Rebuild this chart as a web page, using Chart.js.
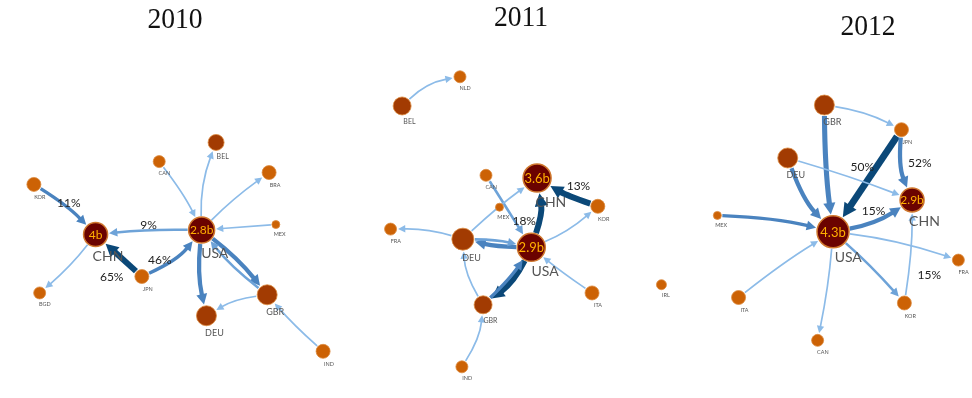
<!DOCTYPE html>
<html>
<head>
<meta charset="utf-8">
<script src="https://cdn.jsdelivr.net/npm/chart.js@4.4.0/dist/chart.umd.min.js"></script>
<style>
  body { margin: 0; background: #fff; }
  #wrap { width: 972px; height: 398px; }
</style>
</head>
<body>
<div id="wrap"><canvas id="net" width="972" height="398"></canvas></div>
<script>
// years shown, one network each
var years = ['2010', '2011', '2012'];

// 2010 nodes (layout coords) and trade links
var names2010 = ['CHN', 'USA', 'KOR', 'BGD', 'JPN', 'CAN', 'BEL', 'BRA', 'MEX', 'GBR', 'DEU', 'IND'];
var x2010 = [81, 191, 17, 23, 129, 147, 206, 261, 268, 259, 196, 317];
var y2010 = [238, 233, 183, 302, 284, 158, 137, 170, 227, 304, 327, 366];
var size2010 = [12, 13, 7, 6, 7, 6, 8, 7, 4, 10, 10, 7];
var volume2010 = ['4b', '2.8b', '', '', '', '', '', '', '', '', '', ''];
var from2010 = ['KOR', 'CHN', 'USA', 'JPN', 'JPN', 'CAN', 'USA', 'USA', 'MEX', 'USA', 'USA', 'GBR', 'GBR', 'IND'];
var to2010 = ['CHN', 'BGD', 'CHN', 'CHN', 'USA', 'USA', 'BEL', 'BRA', 'USA', 'DEU', 'GBR', 'USA', 'DEU', 'GBR'];
var weight2010 = [4, 2, 3, 7, 4, 2, 2, 2, 2, 5, 5, 3, 2, 2];
var share2010 = ['11%', '', '9%', '65%', '46%', '', '', '', '', '', '', '', '', ''];

// 2011
var names2011 = ['CHN', 'USA', 'NLD', 'BEL', 'CAN', 'MEX', 'FRA', 'DEU', 'KOR', 'ITA', 'GBR', 'IND', 'IRL'];
var x2011 = [539, 533, 459, 399, 486, 500, 387, 462, 602, 596, 483, 461, 668];
var y2011 = [176, 252, 65, 97, 173, 208, 232, 243, 207, 302, 315, 383, 293];
var size2011 = [14, 14, 6, 9, 6, 4, 6, 11, 7, 7, 9, 6, 5];
var volume2011 = ['3.6b', '2.9b', '', '', '', '', '', '', '', '', '', '', ''];
var from2011 = ['BEL', 'CAN', 'DEU', 'USA', 'KOR', 'USA', 'DEU', 'USA', 'DEU', 'USA', 'GBR', 'GBR', 'IND', 'ITA'];
var to2011 = ['NLD', 'USA', 'CHN', 'CHN', 'CHN', 'KOR', 'FRA', 'DEU', 'USA', 'GBR', 'USA', 'DEU', 'GBR', 'USA'];
var weight2011 = [2, 3, 2, 7, 7, 2, 2, 5, 3, 7, 4, 2, 2, 2];
var share2011 = ['', '', '', '18%', '13%', '', '', '', '', '', '', '', '', ''];

// 2012
var names2012 = ['USA', 'CHN', 'GBR', 'JPN', 'DEU', 'MEX', 'ITA', 'CAN', 'KOR', 'FRA'];
var x2012 = [846, 928, 837, 917, 799, 726, 748, 830, 920, 976];
var y2012 = [235, 200, 96, 123, 154, 217, 307, 354, 313, 266];
var size2012 = [16, 12, 10, 7, 10, 4, 7, 6, 7, 6];
var volume2012 = ['4.3b', '2.9b', '', '', '', '', '', '', '', ''];
var from2012 = ['GBR', 'GBR', 'JPN', 'JPN', 'DEU', 'DEU', 'USA', 'MEX', 'ITA', 'USA', 'USA', 'USA', 'KOR'];
var to2012 = ['USA', 'JPN', 'USA', 'CHN', 'CHN', 'USA', 'CHN', 'USA', 'USA', 'CAN', 'KOR', 'FRA', 'CHN'];
var weight2012 = [6, 2, 8, 5, 2, 5, 5, 4, 2, 2, 3, 2, 2];
var share2012 = ['', '', '50%', '52%', '', '', '15%', '', '', '', '', '', '15%'];

// drawing layout (not data): curve bends and where the % labels sit
var bends = [
  [0.06, 0.05, -0.03, 0, -0.12, 0.05, 0.1, 0.04, 0, -0.08, 0.06, 0.06, -0.1, 0.03],
  [0.15, 0, 0.03, -0.12, 0.05, -0.08, -0.08, 0.05, 0.05, 0.12, -0.05, 0.12, -0.12, 0.02],
  [-0.03, 0.08, 0, -0.12, 0.02, -0.1, -0.1, 0.05, 0.03, 0.03, 0.03, 0.05, -0.04]
];
var labelShift = [
  {0: [4, -6], 2: [0, -7], 3: [-7, 22], 4: [-12, 7]},
  {3: [-10, 8], 4: [11, -6]},
  {2: [-5, -14], 3: [13, -2], 6: [1, -5], 12: [21, 24]}
];
var titlePos = [[175, 28], [521, 26], [868, 35]];

var panels = [
  {names: names2010, x: x2010, y: y2010, size: size2010, vol: volume2010, from: from2010, to: to2010, w: weight2010, lab: share2010},
  {names: names2011, x: x2011, y: y2011, size: size2011, vol: volume2011, from: from2011, to: to2011, w: weight2011, lab: share2011},
  {names: names2012, x: x2012, y: y2012, size: size2012, vol: volume2012, from: from2012, to: to2012, w: weight2012, lab: share2012}
];

function nodeFill(p, i) {
  if (p.vol[i]) return '#6b0300';
  return p.size[i] >= 8 ? '#a23b02' : '#cc6205';
}
function nodeBorder(p, i) {
  return p.vol[i] ? '#d0782e' : '#dc8a3f';
}
function edgeColor(w) {
  if (w >= 7) return '#0b4878';
  if (w >= 4) return '#4a83bf';
  if (w >= 3) return '#6ea3d8';
  return '#8cbbe8';
}
function nameFont(s) {
  return s >= 12 ? 14 : s >= 10 ? 9 : s >= 8 ? 7 : 5.5;
}

var datasets = panels.map(function(p, k) {
  return {
    label: years[k],
    data: p.names.map(function(n, i) { return {x: p.x[i], y: p.y[i], r: p.size[i]}; }),
    backgroundColor: p.names.map(function(n, i) { return nodeFill(p, i); }),
    borderColor: p.names.map(function(n, i) { return nodeBorder(p, i); }),
    borderWidth: p.names.map(function(n, i) { return p.vol[i] ? 1.5 : 0.8; }),
    clip: false
  };
});

// edges under the nodes
var edgePlugin = {
  id: 'edges',
  beforeDatasetsDraw: function(chart) {
    var ctx = chart.ctx;
    panels.forEach(function(p, k) {
      var pts = chart.getDatasetMeta(k).data;
      p.from.forEach(function(f, e) {
        var a = p.names.indexOf(f), b = p.names.indexOf(p.to[e]);
        var S = pts[a], T = pts[b];
        var dx = T.x - S.x, dy = T.y - S.y, len = Math.sqrt(dx * dx + dy * dy);
        var bend = bends[k][e] || 0;
        var cx = (S.x + T.x) / 2 + dy / len * bend * len;
        var cy = (S.y + T.y) / 2 - dx / len * bend * len;
        var lw = p.w[e] * 0.85;
        var rs = p.size[a] + 1, rt = p.size[b] + 1.5;
        var d0x = cx - S.x, d0y = cy - S.y, l0 = Math.hypot(d0x, d0y);
        var d1x = T.x - cx, d1y = T.y - cy, l1 = Math.hypot(d1x, d1y);
        d0x /= l0; d0y /= l0; d1x /= l1; d1y /= l1;
        var sx = S.x + d0x * rs, sy = S.y + d0y * rs;
        var tx = T.x - d1x * rt, ty = T.y - d1y * rt;
        var ah = 5 + lw * 1.3, aw = 2.5 + lw * 0.7;
        var bx = tx - d1x * ah, by = ty - d1y * ah;
        var col = edgeColor(p.w[e]);
        ctx.save();
        ctx.strokeStyle = col;
        ctx.fillStyle = col;
        ctx.lineWidth = lw;
        ctx.lineCap = 'butt';
        ctx.beginPath();
        ctx.moveTo(sx, sy);
        ctx.quadraticCurveTo(cx, cy, bx + d1x * 1, by + d1y * 1);
        ctx.stroke();
        ctx.beginPath();
        ctx.moveTo(tx, ty);
        ctx.lineTo(bx - d1y * aw, by + d1x * aw);
        ctx.lineTo(bx + d1y * aw, by - d1x * aw);
        ctx.closePath();
        ctx.fill();
        ctx.restore();
      });
    });
  },
  afterDatasetsDraw: function(chart) {
    var ctx = chart.ctx;
    ctx.save();
    ctx.textAlign = 'center';
    ctx.textBaseline = 'middle';
    panels.forEach(function(p, k) {
      var pts = chart.getDatasetMeta(k).data;
      // node names and hub volumes
      p.names.forEach(function(n, i) {
        var pt = pts[i], r = p.size[i], fs = nameFont(r);
        ctx.fillStyle = '#555';
        ctx.font = fs + 'px Lato';
        ctx.fillText(n, pt.x + r * 0.7 + (p.vol[i] ? 4 : 1), pt.y + r + fs * 0.5 + 3);
        if (p.vol[i]) {
          ctx.fillStyle = '#ffb000';
          ctx.font = (r >= 14 ? 13 : 12) + 'px Lato';
          ctx.fillText(p.vol[i], pt.x, pt.y + 0.5);
        }
      });
      // share labels on links
      p.lab.forEach(function(t, e) {
        if (!t) return;
        var S = pts[p.names.indexOf(p.from[e])], T = pts[p.names.indexOf(p.to[e])];
        var sh = labelShift[k][e] || [0, 0];
        ctx.fillStyle = '#222';
        ctx.font = '12px Lato';
        ctx.fillText(t, (S.x + T.x) / 2 + sh[0], (S.y + T.y) / 2 + sh[1]);
      });
    });
    // year titles
    ctx.fillStyle = '#111';
    ctx.textBaseline = 'alphabetic';
    ctx.font = '30px "Liberation Serif"';
    years.forEach(function(yr, k) {
      ctx.save();
      ctx.translate(titlePos[k][0], titlePos[k][1]);
      ctx.scale(0.92, 1);
      ctx.fillText(yr, 0, 0);
      ctx.restore();
    });
    ctx.restore();
  }
};

var config = {
  type: 'bubble',
  data: { datasets: datasets },
  options: {
    responsive: false,
    animation: false,
    events: [],
    layout: { padding: 0 },
    plugins: { legend: { display: false }, tooltip: { enabled: false } },
    scales: {
      x: { type: 'linear', min: 0, max: 972, display: false },
      y: { type: 'linear', min: 0, max: 398, reverse: true, display: false }
    }
  },
  plugins: [edgePlugin]
};

window.onload = function() {
  var ctx = document.getElementById('net').getContext('2d');
  window.tradeNet = new Chart(ctx, config);
};
</script>
</body>
</html>
